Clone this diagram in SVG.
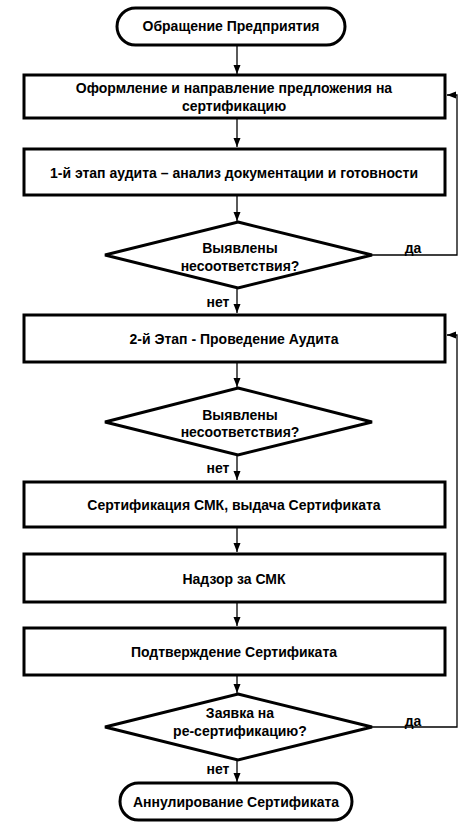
<svg xmlns="http://www.w3.org/2000/svg" width="474" height="832" viewBox="0 0 474 832">
<style>
.n{fill:#fff;stroke:#000;stroke-width:3}
.t{font-family:"Liberation Sans",Arial,sans-serif;font-weight:bold;font-size:14px;fill:#000;text-anchor:middle;dominant-baseline:central}
.c{fill:none;stroke:#000;stroke-width:1.3}
</style>
<defs>
<marker id="a" markerWidth="10" markerHeight="8" refX="9" refY="4" orient="auto" markerUnits="userSpaceOnUse">
<path d="M0,0.5 L9,4 L0,7.5 Z" fill="#000"/>
</marker>
</defs>
<rect width="474" height="832" fill="#fff"/>
<g id="connectors">
<path class="c" d="M237,45 V74" marker-end="url(#a)"/>
<path class="c" d="M237,118 V147" marker-end="url(#a)"/>
<path class="c" d="M237,195 V221" marker-end="url(#a)"/>
<path class="c" d="M237,288 V313" marker-end="url(#a)"/>
<path class="c" d="M372,255 H457 V95 H447" marker-end="url(#a)"/>
<path class="c" d="M237,362 V387" marker-end="url(#a)"/>
<path class="c" d="M237,455 V480" marker-end="url(#a)"/>
<path class="c" d="M237,527 V552" marker-end="url(#a)"/>
<path class="c" d="M237,602 V626" marker-end="url(#a)"/>
<path class="c" d="M237,675 V693" marker-end="url(#a)"/>
<path class="c" d="M372,727 H457 V335 H447" marker-end="url(#a)"/>
<path class="c" d="M237,760 V782" marker-end="url(#a)"/>
<text class="t" x="413" y="248">да</text>
<text class="t" x="218" y="302">нет</text>
<text class="t" x="218" y="468">нет</text>
<text class="t" x="413" y="721">да</text>
<text class="t" x="218" y="769">нет</text>
</g>
<g id="start">
<rect class="n" x="117" y="8" width="228" height="37" rx="18.5"/>
<text class="t" x="231" y="26">Обращение Предприятия</text>
</g>
<g id="offer">
<rect class="n" x="24" y="75" width="421" height="43"/>
<text class="t" x="234" y="88">Оформление и направление предложения на</text>
<text class="t" x="234" y="106">сертификацию</text>
</g>
<g id="stage1">
<rect class="n" x="24" y="149" width="421" height="46"/>
<text class="t" x="234" y="173">1-й этап аудита – анализ документации и готовности</text>
</g>
<g id="decision1">
<polygon class="n" points="238,222 372,255 238,288 105,255"/>
<text class="t" x="240" y="248">Выявлены</text>
<text class="t" x="240" y="266">несоответствия?</text>
</g>
<g id="stage2">
<rect class="n" x="24" y="315" width="421" height="47"/>
<text class="t" x="234" y="339">2-й Этап - Проведение Аудита</text>
</g>
<g id="decision2">
<polygon class="n" points="238,388 372,422 238,455 105,422"/>
<text class="t" x="240" y="415">Выявлены</text>
<text class="t" x="240" y="432">несоответствия?</text>
</g>
<g id="certification">
<rect class="n" x="24" y="482" width="421" height="45"/>
<text class="t" x="234" y="505">Сертификация СМК, выдача Сертификата</text>
</g>
<g id="surveillance">
<rect class="n" x="24" y="554" width="421" height="48"/>
<text class="t" x="234" y="579">Надзор за СМК</text>
</g>
<g id="confirmation">
<rect class="n" x="24" y="628" width="421" height="47"/>
<text class="t" x="234" y="652">Подтверждение Сертификата</text>
</g>
<g id="decision3">
<polygon class="n" points="238,694 372,727 238,760 105,727"/>
<text class="t" x="240" y="713">Заявка на</text>
<text class="t" x="240" y="731">ре-сертификацию?</text>
</g>
<g id="end">
<rect class="n" x="120" y="783" width="232" height="37" rx="18.5"/>
<text class="t" x="236" y="802">Аннулирование Сертификата</text>
</g>
</svg>
